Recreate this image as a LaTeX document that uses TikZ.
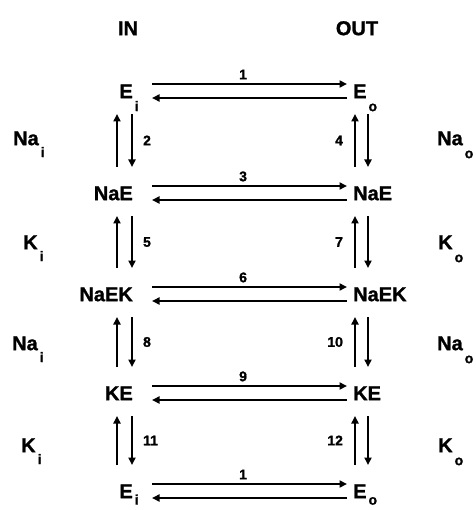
\documentclass[tikz,border=0pt]{standalone}
\usepackage{fontspec}
\setmainfont[BoldFeatures={FakeBold=1.2}]{Liberation Sans}
\usetikzlibrary{arrows.meta,calc}
\newcommand{\lsub}[2][-13pt]{\kern2pt\raisebox{#1}{\fontsize{14}{14}\selectfont\bfseries #2}}
\tikzset{
  species/.style={font=\fontsize{20}{24}\selectfont\bfseries, inner sep=0pt, text height=14.3pt, text depth=0pt},
  lspec/.style={species, anchor=east},
  rspec/.style={species, anchor=west},
  num/.style={font=\fontsize{14}{16}\selectfont\bfseries, inner sep=0pt},
  arr/.style={line width=2.2pt, -{Triangle[length=7.5pt,width=7pt]}},
}
\begin{document}
\begin{tikzpicture}[x=1pt,y=-1pt]
\useasboundingbox (0,0) rectangle (475,510);
% headers
\node[species] (in) at (128,28) {IN};
\node[species] (out) at (357,28) {OUT};
% species
\node[lspec] (Ei)    at (133,91)  {E\rlap{\lsub{i}}};
\node[rspec] (Eo)    at (353,91)  {E\rlap{\lsub{o}}};
\node[lspec] (NaEi)  at (133,193) {NaE};
\node[rspec] (NaEo)  at (353,193) {NaE};
\node[lspec] (NaEKi) at (133,294) {NaEK};
\node[rspec] (NaEKo) at (353,294) {NaEK};
\node[lspec] (KEi)   at (133,393) {KE};
\node[rspec] (KEo)   at (353,393) {KE};
\node[lspec] (Eib)   at (133,491) {E\rlap{\lsub[-6.5pt]{i}}};
\node[rspec] (Eob)   at (353,491) {E\rlap{\lsub[-6.5pt]{o}}};
% side labels
\node[species, anchor=west] (nai1) at (13,138) {Na\rlap{\lsub[-12pt]{i}}};
\node[species, anchor=west] (ki1)  at (23,242) {K\rlap{\lsub[-12pt]{i}}};
\node[species, anchor=west] (nai2) at (12,343) {Na\rlap{\lsub[-12pt]{i}}};
\node[species, anchor=west] (ki2)  at (21,445) {K\rlap{\lsub[-12pt]{i}}};
\node[species, anchor=west] (nao1) at (437,138) {Na\rlap{\lsub{o}}};
\node[species, anchor=west] (ko1)  at (438,242) {K\rlap{\lsub{o}}};
\node[species, anchor=west] (nao2) at (437,343) {Na\rlap{\lsub{o}}};
\node[species, anchor=west] (ko2)  at (438,445) {K\rlap{\lsub{o}}};
% horizontal arrows
\foreach \l/\r/\n in {Ei/Eo/1, NaEi/NaEo/3, NaEKi/NaEKo/6, KEi/KEo/9, Eib/Eob/1}{
  \draw[arr] ($(\l.east)+(19,-7)$) -- node[num, pos=0.467, above=3.5pt] {\n} ($(\r.west)+(-6,-7)$);
  \draw[arr] ($(\r.west)+(-6,7)$) -- ($(\l.east)+(19,7)$);
}
% vertical arrows, left column
\foreach \a/\b/\n in {Ei/NaEi/2, NaEi/NaEKi/5, NaEKi/KEi/8, KEi/Eib/11}{
  \draw[arr] ($(\b.east)+(-16,-26)$) -- ($(\a.east)+(-16,23)$);
  \draw[arr] ($(\a.east)+(-1,23)$) -- node[num, right=10pt] {\n} ($(\b.east)+(-1,-26)$);
}
% vertical arrows, right column
\foreach \a/\b/\n in {Eo/NaEo/4, NaEo/NaEKo/7, NaEKo/KEo/10, KEo/Eob/12}{
  \draw[arr] ($(\b.west)+(2,-26)$) -- node[num, left=11pt] {\n} ($(\a.west)+(2,23)$);
  \draw[arr] ($(\a.west)+(15,23)$) -- ($(\b.west)+(15,-26)$);
}
\end{tikzpicture}
\end{document}
